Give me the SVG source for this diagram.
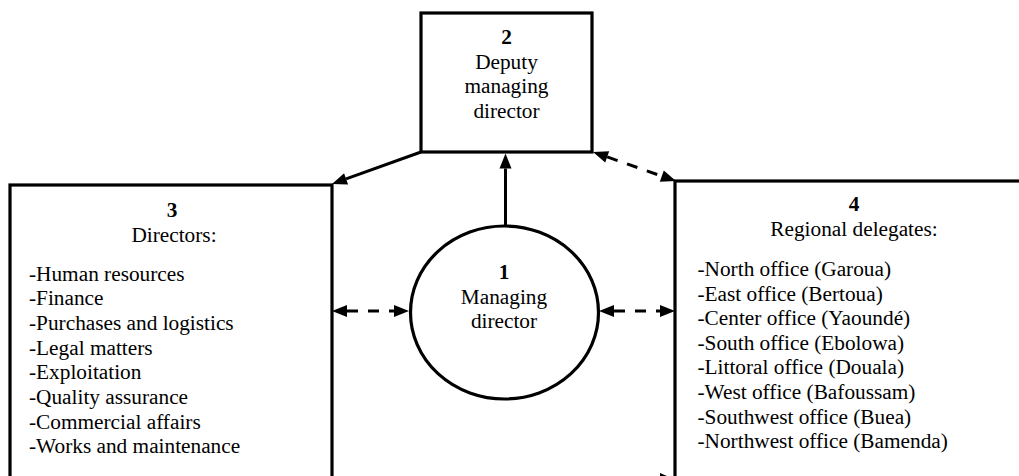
<svg xmlns="http://www.w3.org/2000/svg" width="1019" height="476" viewBox="0 0 1019 476">
<style>
.box{fill:#fff;stroke:#000;stroke-width:3.2}
.t{font-family:"Liberation Serif","Times New Roman",serif;font-size:21.3px;fill:#000}
.c{text-anchor:middle}
.b{font-weight:bold}
.ln{stroke:#000;stroke-width:3;fill:none}
.d{stroke-dasharray:11 10}
</style>
<defs>
<marker id="ah" markerUnits="userSpaceOnUse" markerWidth="15" markerHeight="12" refX="0" refY="6" orient="auto-start-reverse" overflow="visible">
<path d="M0,0 L15,6 L0,12 z" fill="#000"/>
</marker>
</defs>
<rect width="1019" height="476" fill="#fff"/>
<g id="node2">
<rect class="box" x="421" y="13" width="171" height="139"/>
<text class="t c b" x="506.5" y="43.5">2</text>
<text class="t c" x="506.5" y="68.5">Deputy</text>
<text class="t c" x="506.5" y="93">managing</text>
<text class="t c" x="506.5" y="117.5">director</text>
</g>
<g id="node3">
<rect class="box" x="10" y="185" width="322" height="320"/>
<text class="t c b" x="172" y="217">3</text>
<text class="t c" x="174" y="242">Directors:</text>
<text class="t" x="29" y="280.5">-Human resources</text>
<text class="t" x="29" y="305.2">-Finance</text>
<text class="t" x="29" y="329.9">-Purchases and logistics</text>
<text class="t" x="29" y="354.6">-Legal matters</text>
<text class="t" x="29" y="379.3">-Exploitation</text>
<text class="t" x="29" y="404">-Quality assurance</text>
<text class="t" x="29" y="428.7">-Commercial affairs</text>
<text class="t" x="29" y="453.4">-Works and maintenance</text>
</g>
<g id="node4">
<rect class="box" x="675" y="181" width="400" height="320"/>
<text class="t c b" x="854" y="210.5">4</text>
<text class="t c" x="854" y="236">Regional delegates:</text>
<text class="t" x="697.5" y="276">-North office (Garoua)</text>
<text class="t" x="697.5" y="300.6">-East office (Bertoua)</text>
<text class="t" x="697.5" y="325.2">-Center office (Yaoundé)</text>
<text class="t" x="697.5" y="349.8">-South office (Ebolowa)</text>
<text class="t" x="697.5" y="374.4">-Littoral office (Douala)</text>
<text class="t" x="697.5" y="399">-West office (Bafoussam)</text>
<text class="t" x="697.5" y="423.6">-Southwest office (Buea)</text>
<text class="t" x="697.5" y="448.2">-Northwest office (Bamenda)</text>
</g>
<g id="node1">
<ellipse class="box" cx="504.5" cy="312.5" rx="94" ry="86.5"/>
<text class="t c b" x="504" y="279">1</text>
<text class="t c" x="504" y="303.5">Managing</text>
<text class="t c" x="504" y="328">director</text>
</g>
<g id="connectors">
<line class="ln" x1="421" y1="152" x2="346.1" y2="178.9" marker-end="url(#ah)"/>
<line class="ln" x1="505.5" y1="226" x2="505.5" y2="168.5" marker-end="url(#ah)"/>
<line class="ln d" x1="607.2" y1="156.9" x2="661.8" y2="176.1" marker-start="url(#ah)" marker-end="url(#ah)"/>
<line class="ln d" x1="347" y1="311" x2="394" y2="311" marker-start="url(#ah)" marker-end="url(#ah)"/>
<line class="ln d" x1="614" y1="311" x2="660" y2="311" marker-start="url(#ah)" marker-end="url(#ah)"/>
<polygon points="660,473 675,479.5 660,486" fill="#000"/>
</g>
</svg>
